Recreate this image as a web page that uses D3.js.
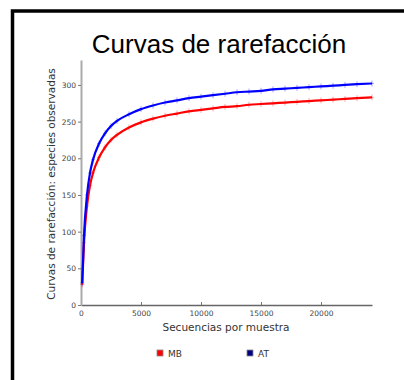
<!DOCTYPE html>
<html><head><meta charset="utf-8">
<script src="https://cdn.jsdelivr.net/npm/d3@7"></script>
<style>body{margin:0;background:#fff;}svg{display:block;}</style>
</head><body>
<svg id="c" width="404" height="380"></svg>
<script>
const depths = [100, 250, 500, 750, 1000, 1500, 2000, 2500, 3000, 4000, 5000, 6000, 7000, 8000, 9000, 10000, 11000, 12000, 13000, 14000, 15000, 16000, 17000, 18000, 19000, 20000, 21000, 22000, 23000, 24250];
const mbValues = [28, 85, 135, 163, 180, 201, 215, 225, 232, 242, 249, 254, 258, 261, 264, 266, 268, 270, 271, 273, 274, 275, 276, 277, 278, 279, 280, 281, 282, 283];
const atValues = [30, 95, 150, 180, 198, 220, 234, 244, 251, 260, 267, 272, 276, 279, 282, 284, 286, 288, 290, 291, 292, 294, 295, 296, 297, 298, 299, 300, 301, 302];
const seriesNames = ["MB", "AT"];
const xTicks = [0, 5000, 10000, 15000, 20000];
const yTicks = [0, 50, 100, 150, 200, 250, 300];

const svg = d3.select("#c");
svg.append("rect").attr("x", 12.5).attr("y", 11).attr("width", 420).attr("height", 400)
  .attr("fill", "none").attr("stroke", "#000").attr("stroke-width", 3.5);

const x = d3.scaleLinear().domain([0, 24250]).range([81, 372]);
const y = d3.scaleLinear().domain([0, 334]).range([305, 60]);

svg.append("text").attr("x", 219).attr("y", 53).attr("text-anchor", "middle")
  .attr("font-family", "Liberation Sans, Arial, sans-serif").attr("font-size", 26).attr("fill", "#000")
  .text("Curvas de rarefacción");

// axes
const xa = svg.append("g").attr("transform", "translate(0,305)")
  .call(d3.axisBottom(x).tickValues(xTicks).tickFormat(d3.format("d")).tickSizeInner(-3).tickSizeOuter(0).tickPadding(6));
const ya = svg.append("g").attr("transform", "translate(81,0)")
  .call(d3.axisLeft(y).tickValues(yTicks).tickSizeInner(3).tickSizeOuter(0).tickPadding(2));
[xa, ya].forEach(g => {
  g.selectAll("text").attr("font-family", "DejaVu Sans, sans-serif").attr("font-size", 7.5).attr("fill", "#444");
  g.selectAll("line").attr("stroke", "#777");
});
xa.select(".domain").attr("stroke", "#666").attr("stroke-width", 1.5);
ya.select(".domain").attr("stroke", "#aaa").attr("stroke-width", 2);

svg.append("text").attr("x", 226).attr("y", 331).attr("text-anchor", "middle")
  .attr("font-family", "DejaVu Sans, sans-serif").attr("font-size", 10.5).attr("fill", "#333")
  .text("Secuencias por muestra");
svg.append("text").attr("transform", "translate(55,184) rotate(-90)").attr("text-anchor", "middle")
  .attr("font-family", "DejaVu Sans, sans-serif").attr("font-size", 10.5).attr("fill", "#333")
  .text("Curvas de rarefacción: especies observadas");

const line = d3.line().x(d => x(d[0])).y(d => y(d[1])).curve(d3.curveMonotoneX);
const series = [
  {name: "MB", vals: mbValues, color: "#ff0000"},
  {name: "AT", vals: atValues, color: "#0000ff"}
];
series.forEach(s => {
  const pts = depths.map((d, i) => [d, s.vals[i]]);
  const g = svg.append("g");
  g.append("path").attr("d", line(pts)).attr("fill", "none").attr("stroke", s.color).attr("stroke-width", 2.2);
  pts.forEach(p => {
    const cx = x(p[0]), cy = y(p[1]);
    g.append("line").attr("x1", cx).attr("x2", cx).attr("y1", cy - 3).attr("y2", cy + 3)
      .attr("stroke", s.color).attr("stroke-opacity", 0.35).attr("stroke-width", 1);
    g.append("line").attr("x1", cx - 2).attr("x2", cx + 2).attr("y1", cy).attr("y2", cy)
      .attr("stroke", s.color).attr("stroke-opacity", 0.35).attr("stroke-width", 1);
  });
});

// legend
const legendColors = {"MB": "#ff0000", "AT": "#000080"};
const legendX = {"MB": 157, "AT": 247};
seriesNames.forEach(n => {
  svg.append("rect").attr("x", legendX[n]).attr("y", 350).attr("width", 6).attr("height", 6)
    .attr("fill", legendColors[n]).attr("stroke", "#888").attr("stroke-width", 0.8);
  svg.append("text").attr("x", legendX[n] + 11).attr("y", 357)
    .attr("font-family", "DejaVu Sans, sans-serif").attr("font-size", 9).attr("fill", "#333").text(n);
});
</script>
</body></html>
